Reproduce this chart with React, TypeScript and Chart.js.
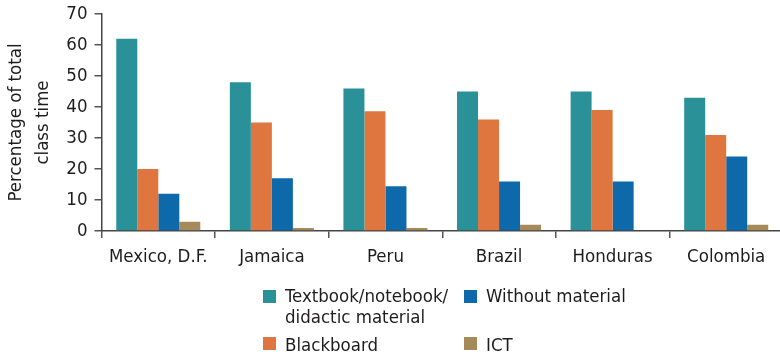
import React, { useEffect, useRef } from "react";
import { Chart, registerables } from "chart.js";

Chart.register(...registerables);

const categories = ["Mexico, D.F.", "Jamaica", "Peru", "Brazil", "Honduras", "Colombia"];
const textbookValues = [62, 48, 46, 45, 45, 43];
const blackboardValues = [20, 35, 38.6, 36, 39, 31];
const withoutMaterialValues = [12, 17, 14.4, 16, 16, 24];
const ictValues = [3, 1, 1, 2, 0, 2];
const yTicks = [0, 10, 20, 30, 40, 50, 60, 70];
const yTitle = ["Percentage of total", "class time"];

const seriesNames = ["Textbook/notebook/ didactic material", "Blackboard", "Without material", "ICT"];
const colors = ["#2a9199", "#e0763f", "#0e69aa", "#a68a5a"];

const FONT = "'Liberation Sans Narrow', 'DejaVu Sans Condensed', 'Liberation Sans', sans-serif";
const TEXT = "#1f1c1d";
const FS = 18.5;

export default function App() {
  const ref = useRef<HTMLCanvasElement | null>(null);

  useEffect(() => {
    const canvas = ref.current;
    if (!canvas) return;
    const chart = new Chart(canvas, {
      type: "bar",
      data: {
        labels: categories,
        datasets: [textbookValues, blackboardValues, withoutMaterialValues, ictValues].map((d, i) => ({
          label: seriesNames[i],
          data: d,
          backgroundColor: colors[i],
          borderWidth: 0,
          barPercentage: 1,
          categoryPercentage: 0.74,
        })),
      },
      options: {
        responsive: false,
        animation: false,
        devicePixelRatio: 1,
        layout: { padding: { left: 0, right: 7, top: 14, bottom: 0 } },
        plugins: { legend: { display: false }, tooltip: { enabled: false } },
        scales: {
          x: {
            grid: { offset: true, drawOnChartArea: false, drawTicks: true, tickLength: 7, color: "#555", lineWidth: 1.5 },
            border: { color: "#444", width: 1.5 },
            ticks: { font: { family: FONT, size: FS }, color: TEXT, padding: 8, maxRotation: 0, autoSkip: false },
            afterFit: (s: any) => { s.height = 125; s.paddingLeft = 0; s.paddingRight = 0; },
          },
          y: {
            min: 0,
            max: 70,
            afterBuildTicks: (s: any) => { s.ticks = yTicks.map((v) => ({ value: v })); },
            grid: { drawOnChartArea: false, drawTicks: true, tickLength: 7, color: "#555", lineWidth: 1.5 },
            border: { color: "#444", width: 1.5 },
            ticks: { font: { family: FONT, size: FS }, color: TEXT, padding: 7 },
            title: { display: true, text: yTitle, font: { family: FONT, size: 18.5, lineHeight: 1.5 }, color: TEXT, padding: { top: 2, bottom: 0 } },
            afterFit: (s: any) => { s.width = 101.5; s.paddingTop = 0; s.paddingBottom = 0; },
          },
        },
      },
    });
    return () => chart.destroy();
  }, []);

  const legendText: React.CSSProperties = {
    position: "absolute",
    fontFamily: FONT,
    fontSize: FS,
    lineHeight: "21px",
    color: TEXT,
    whiteSpace: "nowrap",
  };
  const sq = (left: number, top: number, c: string): React.CSSProperties => ({
    position: "absolute", left, top, width: 13, height: 13, background: c,
  });

  return (
    <div style={{ position: "fixed", left: 0, top: 0, width: 780, height: 356, overflow: "hidden", background: "#fff" }}>
      <canvas ref={ref} width={790} height={356} style={{ width: 790, height: 356, display: "block" }} />
      <div style={sq(263, 290, colors[0])} />
      <div style={{ ...legendText, left: 285, top: 285 }}>Textbook/notebook/<br />didactic material</div>
      <div style={sq(263, 337, colors[1])} />
      <div style={{ ...legendText, left: 285, top: 334 }}>Blackboard</div>
      <div style={sq(464, 290, colors[2])} />
      <div style={{ ...legendText, left: 486, top: 285 }}>Without material</div>
      <div style={sq(464, 337, colors[3])} />
      <div style={{ ...legendText, left: 486, top: 334 }}>ICT</div>
    </div>
  );
}
